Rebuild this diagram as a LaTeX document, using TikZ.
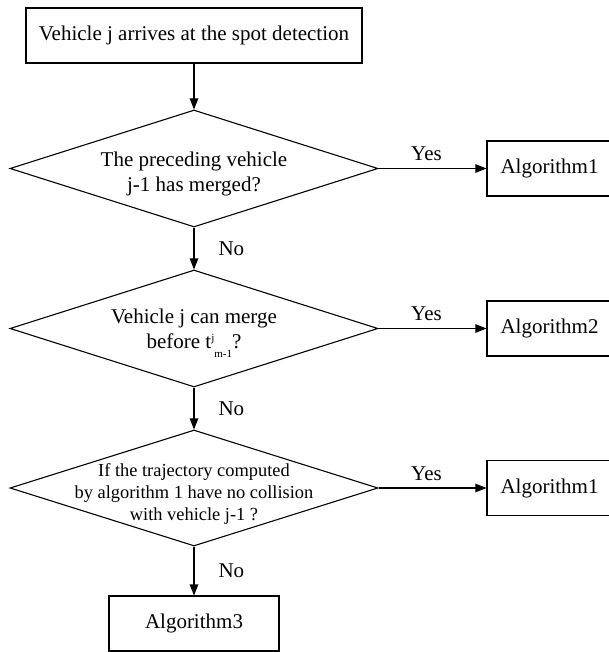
\documentclass[tikz,border=0pt]{standalone}
\usepackage{fontspec}
\setmainfont{Liberation Serif}
\usetikzlibrary{shapes.geometric,arrows.meta}
\begin{document}
\begin{tikzpicture}[x=1pt,y=1pt,
  every node/.style={font=\fontsize{21}{25}\selectfont},
  boxnode/.style={draw,line width=1.1pt,rectangle,inner sep=0pt},
  dianode/.style={draw,line width=1.1pt,diamond,inner sep=0pt,minimum width=368pt,minimum height=117pt},
  diatext/.style={align=center,inner sep=0pt},
  conn/.style={line width=1.1pt,-{Triangle[length=11pt,width=8.5pt]}},
  lbl/.style={inner sep=0pt}
]
\useasboundingbox (0,0) rectangle (609,-652);
\node[boxnode,minimum width=336pt,minimum height=55pt] (start) at (194,-35.5) {Vehicle j arrives at the spot detection};
\node[dianode] (d1) at (194,-168.5) {};
\node[diatext] (t1) at (194,-174) {The preceding vehicle\\j-1 has merged?};
\node[boxnode,minimum width=125pt,minimum height=55pt] (a1) at (549.5,-168.5) {Algorithm1};
\node[dianode] (d2) at (194,-328.5) {};
\node[diatext] (t2) at (194,-333) {Vehicle j can merge\\before t\raisebox{0.75ex}{\fontsize{11}{12}\selectfont j}\raisebox{-0.9ex}{\fontsize{11}{12}\selectfont m-1}?};
\node[boxnode,minimum width=125pt,minimum height=55pt] (a2) at (549.5,-328.5) {Algorithm2};
\node[dianode,minimum height=116pt] (d3) at (194,-488) {};
\node[diatext,font=\fontsize{18.4}{22}\selectfont] (t3) at (194,-494) {If the trajectory computed\\by algorithm 1 have no collision\\with vehicle j-1 ?};
\node[boxnode,minimum width=125pt,minimum height=55pt] (a1b) at (549.5,-488) {Algorithm1};
\node[boxnode,minimum width=170pt,minimum height=55pt] (a3) at (194,-623.5) {Algorithm3};
\draw[conn] (start) -- (d1.north);
\draw[conn] (d1.east) -- node[lbl,above=7pt,xshift=-6pt]{Yes} (a1.west);
\draw[conn] (d1.south) -- node[lbl,right=24pt]{No} (d2.north);
\draw[conn] (d2.east) -- node[lbl,above=7pt,xshift=-6pt]{Yes} (a2.west);
\draw[conn] (d2.south) -- node[lbl,right=24pt]{No} (d3.north);
\draw[conn] (d3.east) -- node[lbl,above=7pt,xshift=-6pt]{Yes} (a1b.west);
\draw[conn] (d3.south) -- node[lbl,right=24pt]{No} (a3.north);
\end{tikzpicture}
\end{document}
